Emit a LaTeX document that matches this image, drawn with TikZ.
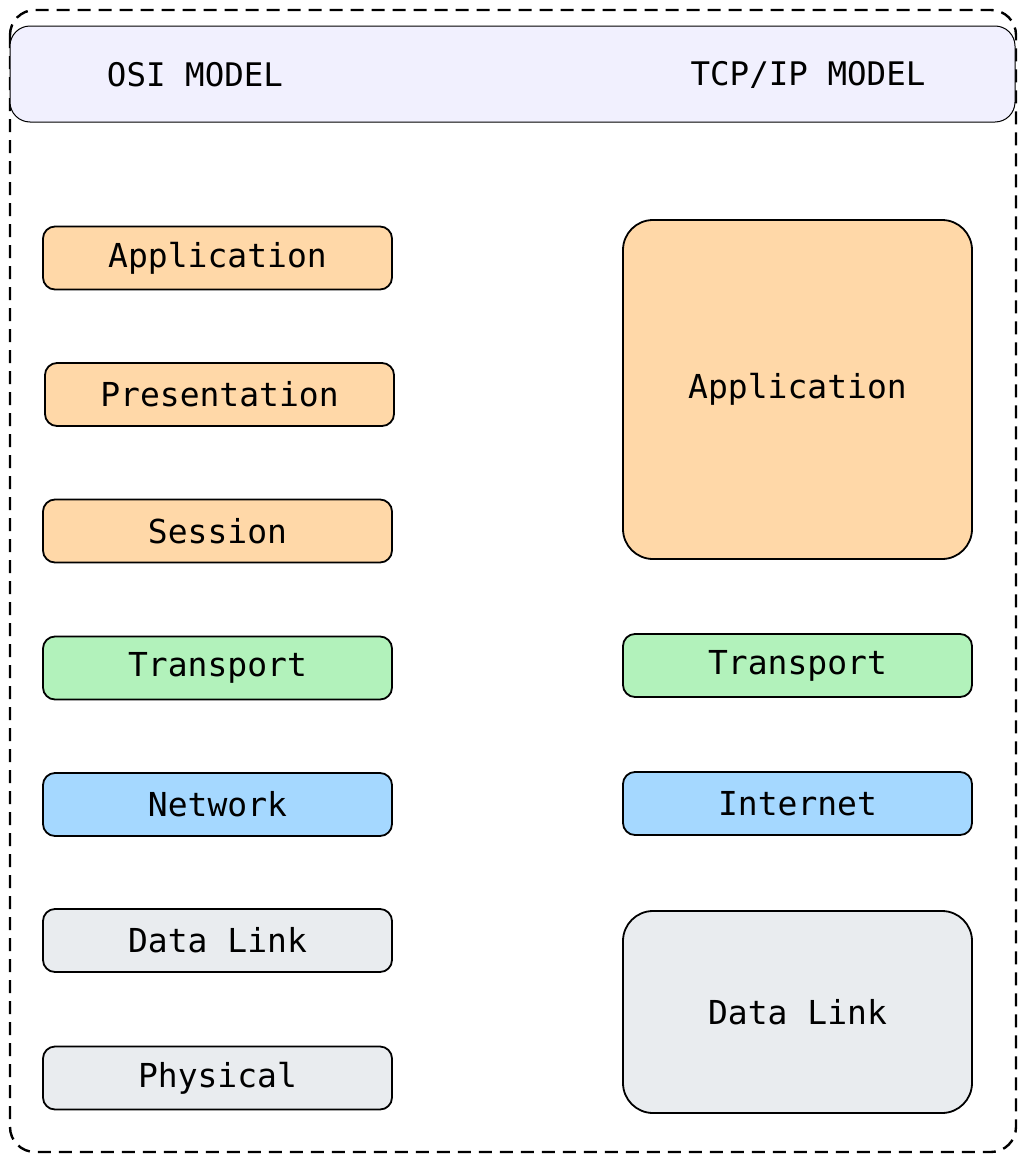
\documentclass[tikz,border=0pt]{standalone}
\usepackage{fontspec}
\setmonofont{DejaVu Sans Mono}
\definecolor{hdr}{HTML}{F1F0FE}
\definecolor{org}{HTML}{FFD8A8}
\definecolor{grn}{HTML}{B2F2BB}
\definecolor{blu}{HTML}{A5D8FF}
\definecolor{gry}{HTML}{E9ECEF}
\tikzset{
  layer/.style={draw=black, line width=1.8pt, rounded corners=12pt, minimum width=349pt, minimum height=63pt, inner sep=0pt,
    font=\ttfamily\fontsize{33}{39}\selectfont},
  bigbox/.style={layer, rounded corners=30pt},
  title/.style={font=\ttfamily\fontsize{32.5}{39}\selectfont, inner sep=0pt}
}
\begin{document}
\begin{tikzpicture}[x=1pt,y=-1pt]
\useasboundingbox (0,0) rectangle (1025,1162);
% outer frame
\draw[line width=2.4pt, dash pattern=on 13pt off 8pt, rounded corners=25pt] (10,10) rectangle (1016,1152);
% header
\node[draw=black, line width=1pt, fill=hdr, rounded corners=20pt, minimum width=1005pt, minimum height=96pt, inner sep=0pt] (hdr) at (512.5,74) {};
\node[title] (osititle) at (195,75) {OSI MODEL};
\node[title] (tcptitle) at (808,75) {TCP/IP MODEL};
% OSI layers
\node[layer, fill=org] (oapp) at (217.5,258) {Application};
\node[layer, fill=org] (opres) at (219.5,394.5) {Presentation};
\node[layer, fill=org] (osess) at (217.5,531) {Session};
\node[layer, fill=grn] (otrans) at (217.5,668) {Transport};
\node[layer, fill=blu] (onet) at (217.5,804.5) {Network};
\node[layer, fill=gry] (odl) at (217.5,940.5) {Data Link};
\node[layer, fill=gry] (ophy) at (217.5,1078) {Physical};
% TCP/IP layers
\node[bigbox, fill=org, minimum height=339pt] (tapp) at (797.5,389.5) {Application};
\node[layer, fill=grn] (ttrans) at (797.5,665.5) {Transport};
\node[layer, fill=blu] (tint) at (797.5,803.5) {Internet};
\node[bigbox, fill=gry, minimum height=202pt] (tdl) at (797.5,1012) {Data Link};
\end{tikzpicture}
\end{document}
